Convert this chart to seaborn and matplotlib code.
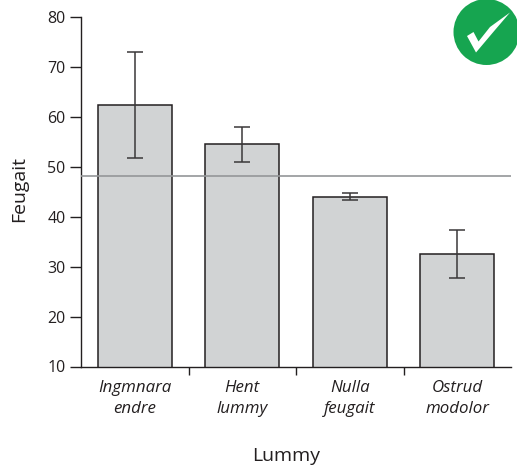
import matplotlib
matplotlib.use("Agg")
import matplotlib.pyplot as plt
import pandas as pd
import seaborn as sns
from matplotlib.patches import Circle, Polygon

categories = ["Ingmnara\nendre", "Hent\nlummy", "Nulla\nfeugait", "Ostrud\nmodolor"]
values = [62.3, 54.5, 44.0, 32.5]
err_low = [51.8, 51.0, 43.4, 27.7]
err_high = [72.9, 58.0, 44.7, 37.3]
reference = 48.2
y_ticks = [10, 20, 30, 40, 50, 60, 70, 80]

W, H = 517, 469
sns.set_theme(style="white")
plt.rcParams["font.family"] = ["Open Sans", "DejaVu Sans"]
text_color = "#231f20"

fig = plt.figure(figsize=(W / 100, H / 100), dpi=100)
L, R, T, B = 81.0, 511.0, 17.0, 366.5
ax = fig.add_axes([L / W, 1 - B / H, (R - L) / W, (B - T) / H])

df = pd.DataFrame({"Lummy": categories, "Feugait": values})
sns.barplot(data=df, x="Lummy", y="Feugait", ax=ax, color="#d1d3d4", saturation=1,
            width=0.69, edgecolor=text_color, linewidth=1.1, errorbar=None)
ax.errorbar(range(len(values)), values,
            yerr=[[v - l for v, l in zip(values, err_low)],
                  [h - v for v, h in zip(values, err_high)]],
            fmt="none", ecolor="#3a3839", elinewidth=1.1, capsize=6, capthick=1.1, zorder=4)
ax.axhline(reference, color="#949698", lw=1.2, zorder=5)

ax.set_xlim(-0.5, 3.5)
ax.set_ylim(10, 80)
ax.set_yticks(y_ticks)
ax.set_xticks([0.5, 1.5, 2.5])
ax.set_xticklabels([])
ax.set_xticks(range(len(categories)), categories, minor=True, style="italic")
ax.tick_params(axis="y", which="major", length=8, width=1.0, color=text_color,
               labelcolor=text_color, labelsize=11.5, pad=3, left=True)
ax.tick_params(axis="x", which="major", length=6, width=1.0, color=text_color, bottom=True)
ax.tick_params(axis="x", which="minor", length=0, labelcolor=text_color, labelsize=12.2, pad=10)
for label in ax.get_xticklabels(minor=True):
    label.set_linespacing(1.4)
for side in ["top", "right"]:
    ax.spines[side].set_visible(False)
for side in ["left", "bottom"]:
    ax.spines[side].set_color(text_color)
    ax.spines[side].set_linewidth(1.0)
ax.set_xlabel("")
ax.set_ylabel("")
fig.text(286.5 / W, 1 - 456 / H, "Lummy", ha="center", va="center", fontsize=14, color=text_color)
fig.text(19 / W, 1 - 189 / H, "Feugait", ha="center", va="center", rotation=90,
         fontsize=14, color=text_color)

# Approval badge, drawn in figure pixels
badge = fig.add_axes([0, 0, 1, 1], zorder=10)
badge.set_xlim(0, W)
badge.set_ylim(H, 0)
badge.axis("off")
badge.patch.set_alpha(0)
badge.add_patch(Circle((486.5, 32), 33, color="#16a550", lw=0))
badge.add_patch(Polygon([(467, 36), (473.5, 32), (478.5, 41.5), (490, 27), (510, 12.5),
                         (495, 30), (476, 52.5)], closed=True, color="white", lw=0))

fig.savefig("out.png", dpi=100)
